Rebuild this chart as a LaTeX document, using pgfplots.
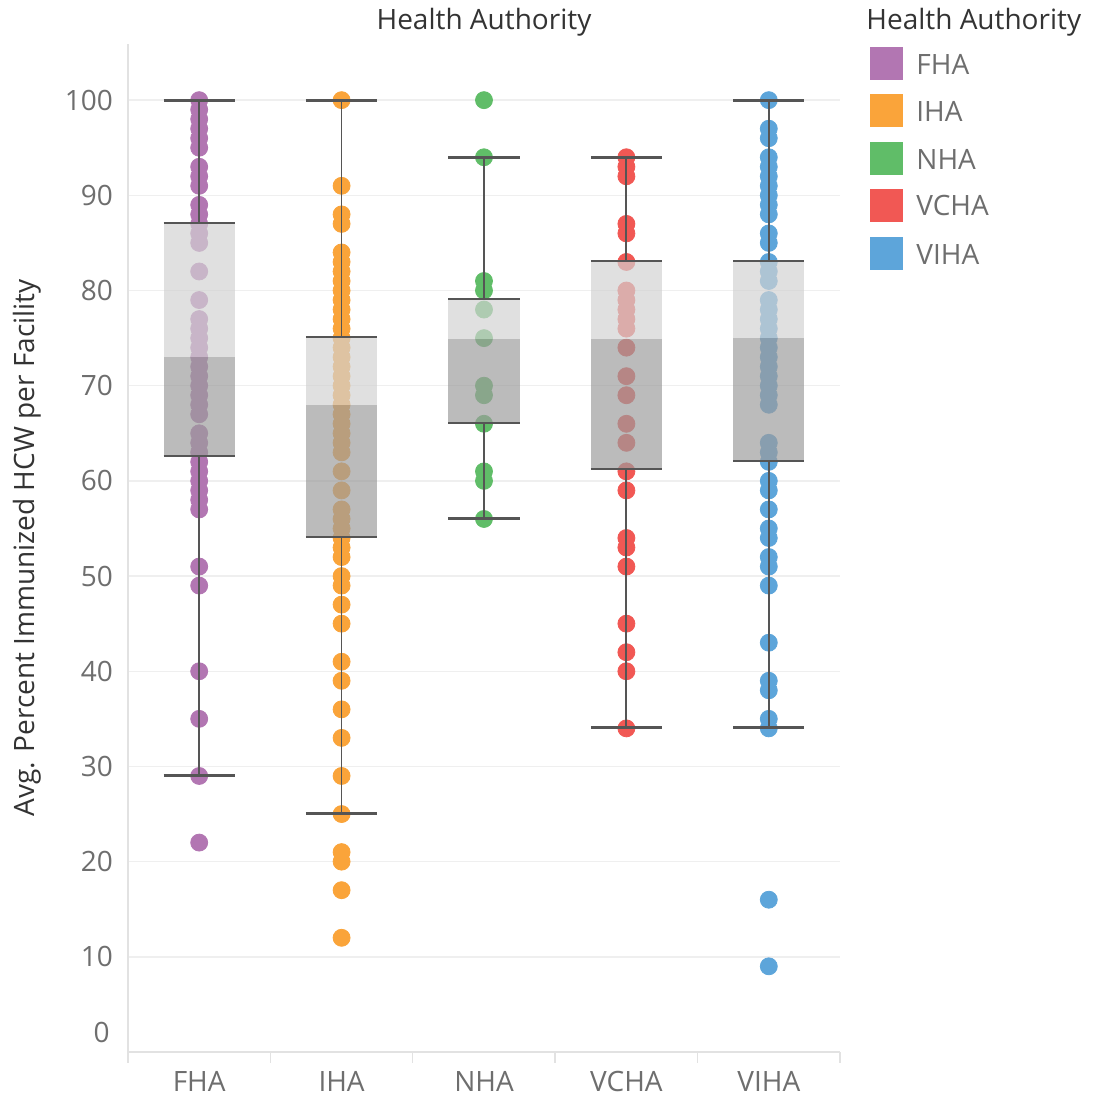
\documentclass[border=0pt]{standalone}
\usepackage{pgfplots}
\pgfplotsset{compat=1.18}
\usepackage{fontspec}
\setmainfont{Open Sans}
\definecolor{fha}{HTML}{B276B2}
\definecolor{iha}{HTML}{FAA43A}
\definecolor{nha}{HTML}{60BD68}
\definecolor{vcha}{HTML}{F15854}
\definecolor{viha}{HTML}{5DA5DA}
\definecolor{tickc}{HTML}{6E6E6E}
\definecolor{titlec}{HTML}{333333}
\definecolor{gridc}{HTML}{EFEFEF}
\definecolor{axc}{HTML}{E2E2E2}
\definecolor{boxlight}{gray}{0.823}
\definecolor{boxdark}{gray}{0.612}
\definecolor{whisk}{HTML}{555555}
\newcommand{\fs}{\fontsize{14}{16}\selectfont}
% args: xc, xl, xr, lower whisker, q1, median, q3, upper whisker
\newcommand{\drawbox}[8]{%
  \addplot[draw=none, fill=boxlight, fill opacity=0.69] coordinates {(#2,#6) (#3,#6) (#3,#7) (#2,#7)} -- cycle;
  \addplot[draw=none, fill=boxdark, fill opacity=0.69] coordinates {(#2,#5) (#3,#5) (#3,#6) (#2,#6)} -- cycle;
  \addplot[whisk, line width=0.9pt] coordinates {(#1,#4) (#1,#5)};
  \addplot[whisk, line width=0.9pt] coordinates {(#1,#7) (#1,#8)};
  \addplot[whisk, line width=1pt] coordinates {(#2,#5) (#3,#5)};
  \addplot[whisk, line width=1pt] coordinates {(#2,#7) (#3,#7)};
  \addplot[whisk, line width=1.5pt] coordinates {(#2,#4) (#3,#4)};
  \addplot[whisk, line width=1.5pt] coordinates {(#2,#8) (#3,#8)};
}
\begin{document}
\begin{tikzpicture}
\useasboundingbox (-64pt,-23.5pt) rectangle (485.5pt,526pt);
\begin{axis}[
  scale only axis, width=356pt, height=504pt,
  xmin=-0.5, xmax=4.5, ymin=0, ymax=105.9,
  clip=false, clip marker paths=true,
  axis lines*=left,
  axis line style={axc, line width=0.7pt},
  xtick={0,1,2,3,4},
  xticklabels={FHA,IHA,NHA,VCHA,VIHA},
  extra x ticks={-0.5,0.5,1.5,2.5,3.5,4.5},
  extra x tick labels={},
  extra x tick style={major tick length=5.5pt, tick align=outside, tick style={axc, line width=0.7pt}},
  ytick={10,20,...,100},
  major tick length=0pt,
  ymajorgrids,
  major grid style={gridc, line width=0.7pt},
  tick label style={font=\fs, text=tickc},
  yticklabel style={xshift=-4pt},
  xticklabel style={yshift=-6pt},
  /pgf/number format/assume math mode=true,
  title={Health Authority},
  every axis title/.style={at={(axis description cs:0.5,1.0218)}, anchor=center, font=\fs, text=titlec},
  ylabel={Avg. Percent Immunized HCW per Facility},
  y label style={at={(axis description cs:-0.1419,0.5)}, anchor=center, rotate=0, font=\fs, text=titlec},
]
% points
\addplot[only marks, mark=*, mark size=4.25pt, color=fha] coordinates {
(0,100) (0,99) (0,98) (0,97) (0,96) (0,95) (0,93) (0,92) (0,91) (0,89) (0,88) (0,87) (0,86) (0,85)
(0,82) (0,79) (0,77) (0,76) (0,75) (0,74) (0,73) (0,72) (0,71) (0,70) (0,69) (0,68) (0,67)
(0,65) (0,64) (0,63) (0,62) (0,61) (0,60) (0,59) (0,58) (0,57) (0,51) (0,49) (0,40) (0,35) (0,29) (0,22)};
\addplot[only marks, mark=*, mark size=4.25pt, color=iha] coordinates {
(1,100) (1,91) (1,88) (1,87) (1,84) (1,83) (1,82) (1,81) (1,80) (1,79) (1,78) (1,77) (1,76)
(1,75) (1,74) (1,73) (1,72) (1,71) (1,70) (1,69) (1,68) (1,67) (1,66) (1,65) (1,64) (1,63) (1,61) (1,59)
(1,57) (1,56) (1,55) (1,54) (1,53) (1,52) (1,50) (1,49) (1,47) (1,45) (1,41) (1,39) (1,36) (1,33)
(1,29) (1,25) (1,21) (1,20) (1,17) (1,12)};
\addplot[only marks, mark=*, mark size=4.25pt, color=nha] coordinates {
(2,100) (2,94) (2,81) (2,80) (2,78) (2,75) (2,70) (2,69) (2,66) (2,61) (2,60) (2,56)};
\addplot[only marks, mark=*, mark size=4.25pt, color=vcha] coordinates {
(3,94) (3,93) (3,92) (3,87) (3,86) (3,83) (3,80) (3,79) (3,78) (3,77) (3,76) (3,74) (3,71) (3,69)
(3,66) (3,64) (3,61) (3,59) (3,54) (3,53) (3,51) (3,45) (3,42) (3,40) (3,34)};
\addplot[only marks, mark=*, mark size=4.25pt, color=viha] coordinates {
(4,100) (4,97) (4,96) (4,94) (4,93) (4,92) (4,91) (4,90) (4,89) (4,88) (4,86) (4,85) (4,83) (4,82)
(4,81) (4,79) (4,78) (4,77) (4,76) (4,75) (4,74) (4,73) (4,72) (4,71) (4,70) (4,69) (4,68)
(4,64) (4,63) (4,62) (4,60) (4,59) (4,57) (4,55) (4,54) (4,52) (4,51) (4,49) (4,43) (4,39) (4,38)
(4,35) (4,34) (4,16) (4,9)};
% boxes
\drawbox{0}{-0.25}{0.25}{29.1}{62.6}{73.0}{87.1}{100}
\drawbox{1}{0.75}{1.25}{25.1}{54.1}{68.0}{75.1}{100}
\drawbox{2}{1.75}{2.25}{56.0}{66.1}{74.9}{79.1}{94.0}
\drawbox{3}{2.75}{3.25}{34.1}{61.2}{74.9}{83.1}{94.0}
\drawbox{4}{3.75}{4.25}{34.1}{62.1}{75.0}{83.1}{100}
\node[anchor=east, inner sep=0pt, font=\fs, text=tickc] at (axis cs:-0.5,2.1) [xshift=-9pt] {0};
\draw[axc, line width=0.7pt] (axis cs:-0.5,0) -- ++(-6.5pt,0);
\end{axis}
% legend
\node[anchor=west, inner sep=0pt, font=\fs, text=titlec] at (369pt,515pt) {Health Authority};
\fill[fha]  (371pt,485.75pt) rectangle (387.5pt,502.25pt);
\fill[iha]  (371pt,462.25pt) rectangle (387.5pt,478.75pt);
\fill[nha]  (371pt,438.25pt) rectangle (387.5pt,454.75pt);
\fill[vcha] (371pt,414.75pt) rectangle (387.5pt,431.25pt);
\fill[viha] (371pt,390.75pt) rectangle (387.5pt,407.25pt);
\node[anchor=west, inner sep=0pt, font=\fs, text=tickc] at (394pt,494pt) {FHA};
\node[anchor=west, inner sep=0pt, font=\fs, text=tickc] at (394pt,470.5pt) {IHA};
\node[anchor=west, inner sep=0pt, font=\fs, text=tickc] at (394pt,446.5pt) {NHA};
\node[anchor=west, inner sep=0pt, font=\fs, text=tickc] at (394pt,423pt) {VCHA};
\node[anchor=west, inner sep=0pt, font=\fs, text=tickc] at (394pt,399pt) {VIHA};
\end{tikzpicture}
\end{document}
